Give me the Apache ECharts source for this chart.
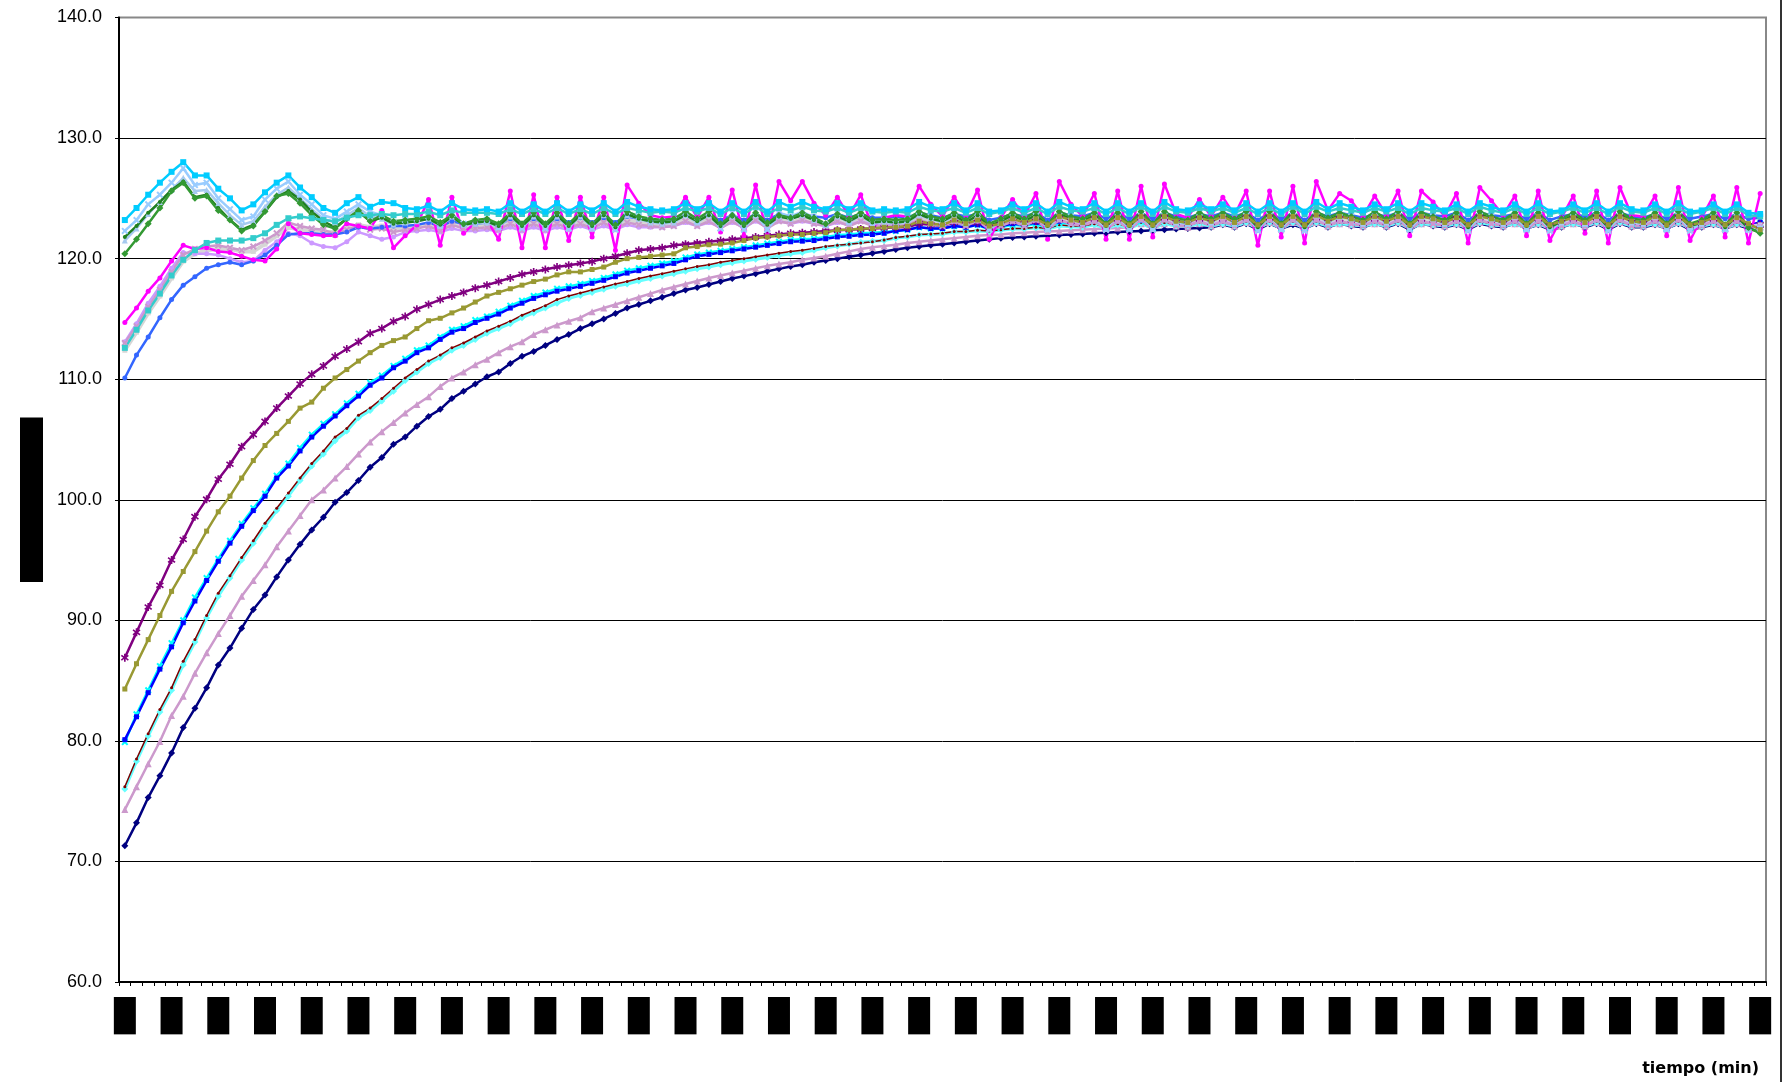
<!DOCTYPE html>
<html><head><meta charset="utf-8">
<script src="https://cdn.jsdelivr.net/npm/echarts@6.0.0/dist/echarts.min.js"></script>
<style>html,body{margin:0;padding:0;background:#fff}#c{width:1786px;height:1082px}</style>
</head><body><div id="c"></div><script>
// categories: one per sample (141 samples), labels shown every 4th
const tiempo = [];
for (let i = 0; i <= 140; i++) tiempo.push(Math.floor(i / 60) + ':' + String(i % 60).padStart(2, '0'));
const yTicks = [60, 70, 80, 90, 100, 110, 120, 130, 140];

const navy = [71.3,73.2,75.3,77.1,79.0,81.1,82.7,84.4,86.3,87.7,
89.35,90.9,92.1,93.6,95.0,96.3,97.5,98.55,99.8,100.6,
101.6,102.7,103.5,104.6,105.2,106.1,106.9,107.5,108.4,109.0,
109.6,110.2,110.6,111.3,111.9,112.3,112.8,113.3,113.7,114.2,
114.6,115.0,115.45,115.9,116.2,116.5,116.8,117.1,117.4,117.6,
117.85,118.1,118.35,118.55,118.75,118.95,119.15,119.35,119.5,119.7,
119.85,120.0,120.15,120.3,120.45,120.6,120.75,120.9,121.0,121.1,
121.2,121.3,121.4,121.5,121.6,121.7,121.75,121.8,121.85,121.9,
121.95,122.0,122.05,122.1,122.15,122.2,122.25,122.3,122.35,122.4,
122.45,122.5,122.55,122.6,122.8,122.6,122.9,122.4,122.9,122.5,
122.8,122.5,122.9,122.6,122.9,122.7,122.6,122.9,122.6,122.9,
122.4,122.9,122.7,122.6,122.8,122.4,122.9,122.7,122.6,122.9,
122.5,122.8,122.4,122.6,122.9,122.6,122.9,122.4,122.9,122.6,
122.6,122.8,122.5,122.9,122.4,122.6,122.8,122.5,122.8,122.5,
122.6];
const plumTri = [74.3,76.2,78.1,79.95,82.1,83.7,85.6,87.3,88.9,90.4,
92.0,93.3,94.6,96.1,97.4,98.7,100.0,100.8,101.8,102.75,
103.8,104.8,105.65,106.4,107.2,107.9,108.55,109.4,110.1,110.6,
111.2,111.65,112.2,112.7,113.1,113.7,114.1,114.5,114.8,115.1,
115.6,115.9,116.2,116.5,116.8,117.1,117.4,117.65,117.9,118.15,
118.4,118.6,118.8,119.0,119.2,119.4,119.55,119.7,119.9,120.05,
120.2,120.4,120.6,120.8,120.95,121.05,121.15,121.3,121.4,121.5,
121.6,121.7,121.8,121.9,121.95,122.0,122.1,122.15,122.2,122.25,
122.3,122.35,122.4,122.45,122.5,122.55,122.6,122.9,122.5,122.9,
122.7,122.6,122.9,122.7,122.9,122.7,123.0,122.5,123.0,122.5,
123.0,122.5,123.0,122.7,122.9,122.8,122.7,122.9,122.7,123.0,
122.5,122.9,122.8,122.7,122.9,122.5,123.0,122.8,122.7,122.9,
122.5,122.9,122.5,122.7,122.9,122.7,123.0,122.5,123.0,122.7,
122.7,122.9,122.5,123.0,122.5,122.7,122.9,122.5,122.9,122.6,
122.7];
const lightCyan = [76.0,78.3,80.4,82.4,84.2,86.3,88.2,90.2,92.0,93.5,
95.0,96.4,97.8,99.1,100.3,101.6,102.8,103.8,104.9,105.7,
106.8,107.4,108.2,109.0,109.9,110.6,111.3,111.8,112.4,112.8,
113.3,113.8,114.2,114.6,115.1,115.5,115.9,116.3,116.7,116.95,
117.2,117.45,117.7,117.9,118.15,118.35,118.55,118.75,118.95,119.15,
119.3,119.5,119.65,119.8,119.95,120.1,120.25,120.4,120.5,120.7,
120.9,121.05,121.2,121.35,121.45,121.5,121.7,121.8,121.95,122.0,
122.05,122.2,122.2,122.3,122.25,122.35,122.45,122.45,122.55,122.45,
122.7,122.65,122.6,122.8,122.5,122.8,122.5,122.9,122.5,122.9,
122.7,122.7,122.9,122.7,122.9,122.7,123.0,122.5,123.0,122.5,
123.0,122.5,123.0,122.7,122.9,122.8,122.7,122.9,122.7,123.0,
122.5,122.9,122.8,122.7,122.9,122.5,123.0,122.8,122.7,122.9,
122.5,122.9,122.5,122.7,122.9,122.7,123.0,122.5,123.0,122.7,
122.7,122.9,122.5,123.0,122.5,122.7,122.9,122.5,122.9,122.6,
122.8];
const darkRed = [76.2,78.5,80.6,82.6,84.4,86.6,88.4,90.4,92.25,93.7,
95.2,96.6,98.05,99.3,100.55,101.8,103.0,104.05,105.2,105.9,
107.0,107.6,108.4,109.25,110.1,110.8,111.5,112.0,112.6,113.0,
113.5,114.0,114.4,114.8,115.3,115.7,116.1,116.6,116.9,117.15,
117.4,117.65,117.9,118.1,118.35,118.55,118.75,118.95,119.15,119.35,
119.5,119.7,119.85,120.0,120.15,120.3,120.45,120.6,120.7,120.85,
121.0,121.1,121.2,121.3,121.4,121.55,121.75,121.85,122.0,122.05,
122.1,122.25,122.25,122.35,122.3,122.4,122.5,122.5,122.6,122.5,
122.8,122.7,122.7,122.9,122.6,122.9,122.6,123.0,122.6,123.0,
122.8,122.8,123.0,122.8,123.0,122.8,123.1,122.6,123.1,122.6,
123.1,122.6,123.1,122.8,123.0,122.9,122.8,123.0,122.8,123.1,
122.6,123.0,122.9,122.8,123.0,122.6,123.1,122.9,122.8,123.0,
122.6,123.0,122.6,122.8,123.0,122.8,123.1,122.6,123.1,122.8,
122.8,123.0,122.6,123.1,122.6,122.8,123.0,122.6,123.0,122.7,
122.7];
const cyanX = [79.9,82.2,84.2,86.2,88.1,90.0,91.9,93.5,95.1,96.6,
98.0,99.3,100.5,102.0,103.0,104.3,105.4,106.3,107.1,108.0,
108.8,109.7,110.3,111.1,111.7,112.4,112.8,113.5,114.1,114.4,
114.9,115.2,115.6,116.1,116.5,116.9,117.2,117.5,117.7,117.9,
118.15,118.4,118.7,119.0,119.2,119.4,119.6,119.8,120.1,120.35,
120.5,120.65,120.8,120.95,121.1,121.25,121.4,121.55,121.6,121.65,
121.8,121.95,122.0,122.1,122.15,122.2,122.3,122.4,122.6,122.5,
122.5,122.7,122.6,122.8,122.4,122.6,122.8,122.7,122.9,122.5,
123.0,122.9,122.8,123.1,122.5,123.1,122.5,123.1,122.5,123.2,
122.9,122.8,123.1,122.9,123.1,122.9,123.2,122.5,123.2,122.5,
123.2,122.5,123.2,122.9,123.1,123.0,122.8,123.1,122.9,123.2,
122.5,123.1,123.0,122.8,123.1,122.5,123.2,123.0,122.8,123.1,
122.5,123.2,122.5,122.9,123.1,122.8,123.2,122.5,123.2,122.9,
122.8,123.1,122.5,123.2,122.5,122.8,123.1,122.5,123.1,122.6,
122.9];
const blue = [80.1,82.0,84.0,85.95,87.8,89.8,91.6,93.3,94.9,96.4,
97.8,99.1,100.3,101.8,102.8,104.05,105.2,106.1,106.95,107.8,
108.6,109.5,110.1,110.95,111.5,112.2,112.6,113.3,113.9,114.2,
114.7,115.05,115.4,115.9,116.3,116.7,117.0,117.3,117.5,117.7,
117.95,118.2,118.5,118.8,119.0,119.2,119.4,119.6,119.9,120.2,
120.35,120.5,120.65,120.8,120.95,121.1,121.25,121.4,121.45,121.5,
121.65,121.8,121.85,121.95,122.0,122.1,122.3,122.4,122.6,122.5,
122.5,122.7,122.6,122.8,122.5,122.7,122.9,122.8,123.0,122.6,
123.1,123.0,122.9,123.2,122.7,123.2,122.7,123.2,122.7,123.3,
123.0,122.9,123.2,123.0,123.2,123.0,123.3,122.7,123.3,122.7,
123.3,122.7,123.3,123.0,123.2,123.1,122.9,123.2,123.0,123.3,
122.7,123.2,123.1,123.0,123.2,122.7,123.3,123.1,122.9,123.2,
122.7,123.3,122.7,123.0,123.2,122.9,123.3,122.7,123.3,123.0,
122.9,123.2,122.7,123.3,122.7,122.9,123.2,122.7,123.2,122.8,
123.0];
const olive = [84.3,86.4,88.4,90.4,92.4,94.05,95.7,97.4,99.0,100.3,
101.8,103.25,104.5,105.5,106.5,107.6,108.1,109.25,110.1,110.8,
111.5,112.2,112.8,113.2,113.5,114.2,114.85,115.05,115.5,115.9,
116.4,116.9,117.2,117.5,117.8,118.1,118.3,118.65,118.9,118.9,
119.1,119.3,119.7,120.0,120.1,120.2,120.3,120.4,120.9,121.0,
121.15,121.2,121.3,121.5,121.7,121.8,121.9,122.0,122.0,122.1,
122.15,122.4,122.4,122.5,122.5,122.6,122.6,122.7,123.1,122.9,
122.8,123.2,122.9,123.2,122.7,122.9,123.3,123.0,123.3,122.8,
123.5,123.2,123.0,123.4,122.8,123.4,122.8,123.5,122.8,123.5,
123.1,123.0,123.4,123.1,123.5,123.0,123.5,122.8,123.5,122.8,
123.5,122.8,123.6,123.1,123.5,123.3,123.0,123.5,123.1,123.5,
122.8,123.5,123.3,123.0,123.4,122.8,123.5,123.3,123.0,123.5,
122.8,123.5,122.8,123.1,123.4,123.0,123.5,122.8,123.5,123.1,
123.0,123.5,122.8,123.5,122.8,123.0,123.4,122.8,123.4,122.9,
122.4];
const purple = [86.9,89.0,91.1,92.9,95.0,96.7,98.6,100.05,101.7,102.95,
104.4,105.4,106.5,107.6,108.6,109.6,110.4,111.1,111.9,112.5,
113.1,113.8,114.2,114.8,115.2,115.8,116.2,116.6,116.9,117.2,
117.55,117.8,118.1,118.4,118.7,118.9,119.1,119.3,119.45,119.6,
119.75,120.0,120.2,120.45,120.7,120.8,120.9,121.1,121.2,121.3,
121.4,121.5,121.6,121.7,121.8,121.9,122.0,122.1,122.15,122.2,
122.3,122.35,122.4,122.45,122.5,122.55,122.6,122.6,122.9,122.8,
122.7,123.0,122.8,123.0,122.6,122.8,123.1,122.9,123.1,122.7,
123.3,123.1,122.9,123.3,122.7,123.3,122.7,123.4,122.7,123.4,
123.0,122.9,123.3,123.0,123.3,123.0,123.4,122.7,123.4,122.7,
123.4,122.7,123.4,123.0,123.3,123.2,122.9,123.3,123.0,123.4,
122.7,123.3,123.2,122.9,123.3,122.7,123.4,123.2,122.9,123.3,
122.7,123.3,122.7,123.0,123.3,122.9,123.4,122.7,123.4,123.0,
122.9,123.3,122.7,123.4,122.7,122.9,123.3,122.7,123.3,122.7,
122.8];
const lightGray = [112.4,113.9,115.5,116.9,118.4,119.8,120.4,120.7,120.8,120.8,
120.6,120.6,121.2,121.9,122.6,122.4,122.3,122.2,122.2,122.5,
122.8,122.6,122.7,122.5,122.6,122.7,122.9,122.5,123.0,122.7,
122.7,122.8,122.6,123.1,122.6,123.1,122.6,123.1,122.7,123.1,
122.7,123.2,122.6,123.2,123.0,122.9,122.8,122.9,123.3,122.9,
123.3,122.7,123.3,122.7,123.3,122.7,123.3,123.0,123.3,123.0,
122.9,123.3,122.9,123.3,122.9,122.9,122.9,122.9,123.3,123.1,
122.9,123.3,122.9,123.3,122.6,122.9,123.3,122.9,123.3,122.6,
123.3,123.1,122.9,123.3,122.6,123.3,122.6,123.3,122.6,123.3,
122.9,122.9,123.3,122.9,123.3,122.9,123.3,122.6,123.3,122.6,
123.3,122.6,123.3,122.9,123.3,123.1,122.9,123.3,122.9,123.3,
122.6,123.3,123.1,122.9,123.3,122.6,123.3,123.1,122.9,123.3,
122.6,123.3,122.6,122.9,123.3,122.9,123.3,122.6,123.3,122.9,
122.9,123.3,122.6,123.3,122.6,122.9,123.3,122.6,123.3,122.6,
122.8];
const lavender = [113.1,114.6,116.3,117.7,119.2,120.5,120.4,120.4,120.3,120.0,
119.7,119.8,120.7,121.4,122.1,121.9,121.3,121.0,120.9,121.4,
122.2,121.9,121.6,121.8,122.2,122.3,122.4,122.2,122.5,122.3,
122.3,122.4,122.3,122.6,122.3,122.6,122.3,122.6,122.4,122.7,
122.4,122.7,122.4,122.8,122.6,122.6,122.6,122.7,123.0,122.7,
123.0,122.6,123.0,122.6,123.1,122.6,123.1,122.9,123.1,122.9,
122.7,123.0,122.8,123.1,122.8,122.8,122.8,122.8,123.2,122.9,
122.8,123.1,122.8,123.1,122.6,122.8,123.1,122.8,123.2,122.6,
123.2,122.9,122.8,123.1,122.6,123.1,122.6,123.2,122.6,123.2,
122.8,122.8,123.1,122.8,123.1,122.8,123.2,122.5,123.2,122.6,
123.2,122.5,123.2,122.8,123.1,122.9,122.8,123.1,122.8,123.2,
122.6,123.1,122.9,122.8,123.1,122.5,123.2,122.9,122.8,123.1,
122.6,123.1,122.5,122.8,123.1,122.7,123.2,122.5,123.2,122.8,
122.8,123.1,122.6,123.2,122.5,122.8,123.1,122.6,123.1,122.6,
122.7];
const plumX = [113.0,114.4,116.0,117.4,118.9,120.3,120.8,121.0,121.1,120.9,
120.7,121.0,121.5,122.1,123.0,122.7,122.5,122.4,122.0,122.4,
122.7,122.4,122.5,122.2,122.4,122.5,122.7,122.3,122.8,122.5,
122.5,122.6,122.4,122.9,122.4,122.9,122.4,122.9,122.5,122.9,
122.5,123.0,122.4,123.0,122.8,122.7,122.6,122.7,123.1,122.7,
123.1,122.5,123.1,122.5,123.2,122.5,123.1,122.9,123.2,122.9,
122.7,123.1,122.7,123.1,122.7,122.7,122.7,122.8,123.2,122.9,
122.7,123.1,122.7,123.2,122.4,122.7,123.1,122.7,123.2,122.4,
123.2,122.9,122.7,123.1,122.4,123.1,122.4,123.2,122.4,123.2,
122.7,122.7,123.1,122.7,123.1,122.7,123.2,122.4,123.2,122.4,
123.2,122.4,123.2,122.7,123.1,122.9,122.7,123.1,122.7,123.2,
122.4,123.1,122.9,122.7,123.1,122.4,123.2,122.9,122.7,123.1,
122.4,123.1,122.4,122.7,123.1,122.7,123.2,122.4,123.2,122.7,
122.7,123.1,122.4,123.2,122.4,122.7,123.1,122.4,123.1,122.5,
122.6];
const blueCircle = [110.1,112.0,113.5,115.1,116.6,117.8,118.5,119.2,119.5,119.7,
119.5,119.8,120.3,121.1,122.0,122.1,122.1,122.0,122.0,122.2,
122.6,122.5,122.6,122.7,122.7,122.8,123.0,122.7,123.1,122.9,
122.9,123.0,122.8,123.3,122.9,123.3,122.9,123.3,123.0,123.4,
123.0,123.4,123.0,123.5,123.3,123.2,123.2,123.3,123.6,123.3,
123.6,123.2,123.6,123.2,123.7,123.2,123.7,123.5,123.7,123.5,
123.4,123.7,123.4,123.7,123.4,123.4,123.5,123.4,123.8,123.6,
123.4,123.7,123.5,123.7,123.2,123.4,123.7,123.5,123.8,123.2,
123.8,123.6,123.5,123.8,123.3,123.8,123.3,123.8,123.3,123.8,
123.5,123.4,123.7,123.5,123.8,123.5,123.8,123.2,123.8,123.3,
123.8,123.2,123.8,123.5,123.8,123.6,123.4,123.7,123.5,123.8,
123.3,123.8,123.6,123.5,123.8,123.2,123.8,123.6,123.5,123.7,
123.3,123.8,123.2,123.5,123.7,123.5,123.8,123.2,123.8,123.5,
123.4,123.7,123.3,123.8,123.3,123.5,123.7,123.3,123.7,123.3,
123.4];
const magenta = [114.7,115.9,117.3,118.4,119.8,121.1,120.8,120.9,120.6,120.5,
120.2,119.9,119.8,120.8,122.9,122.1,122.0,121.9,121.9,122.9,
122.7,122.5,124.0,120.9,121.9,122.8,124.9,121.1,125.1,122.1,
123.0,123.2,121.6,125.6,120.9,125.3,120.9,125.1,121.5,125.1,
121.8,125.1,120.7,126.1,124.6,123.6,123.4,123.5,125.1,123.4,
125.1,122.2,125.7,121.9,126.1,121.9,126.4,124.8,126.4,124.6,
123.6,125.1,123.5,125.3,122.6,123.4,123.6,123.5,126.0,124.5,
123.5,125.1,123.6,125.7,121.6,123.4,124.9,123.5,125.4,121.6,
126.4,124.5,123.5,125.4,121.6,125.6,121.6,126.0,121.8,126.2,
123.7,123.4,124.9,123.5,125.1,123.6,125.6,121.1,125.6,121.8,
126.0,121.3,126.4,124.0,125.4,124.8,123.5,125.2,123.6,125.6,
121.9,125.6,124.7,123.5,125.4,121.3,125.9,124.8,123.6,125.2,
121.9,125.6,121.5,123.4,125.2,122.1,125.6,121.3,125.9,123.6,
123.5,125.2,121.9,125.9,121.5,123.4,125.2,121.8,125.9,121.3,
125.4];
const teal = [112.6,114.1,115.7,117.1,118.6,119.9,120.7,121.3,121.5,121.5,
121.5,121.7,122.1,122.8,123.35,123.5,123.35,123.2,123.1,123.4,
123.6,123.6,123.7,123.6,123.7,123.7,123.9,123.6,124.0,123.8,
123.8,123.8,123.7,124.1,123.7,124.1,123.7,124.2,123.7,124.1,
123.7,124.2,123.7,124.2,124.0,123.8,123.9,123.8,124.2,123.9,
124.2,123.7,124.2,123.7,124.3,123.7,124.2,124.0,124.3,124.0,
123.9,124.2,123.8,124.2,123.9,123.8,123.9,123.8,124.3,124.0,
123.9,124.2,123.8,124.2,123.7,123.9,124.2,123.8,124.2,123.7,
124.3,124.0,123.9,124.2,123.7,124.2,123.7,124.3,123.7,124.3,
123.9,123.8,124.2,123.9,124.2,123.8,124.2,123.7,124.2,123.7,
124.3,123.7,124.3,123.9,124.2,124.0,123.8,124.2,123.9,124.2,
123.7,124.2,124.0,123.9,124.2,123.7,124.3,124.0,123.8,124.2,
123.7,124.2,123.7,123.9,124.2,123.8,124.2,123.7,124.3,123.9,
123.8,124.2,123.7,124.2,123.7,123.9,124.2,123.7,124.2,123.6,
123.5];
const lightBlue2 = [121.5,122.5,123.7,124.7,125.7,126.7,125.6,125.7,124.6,123.6,
122.8,123.1,124.3,125.3,125.9,125.0,124.1,123.3,123.0,123.6,
124.2,123.5,123.3,122.8,123.0,123.1,123.3,122.7,123.5,122.8,
122.9,123.0,122.6,123.5,122.6,123.5,122.6,123.5,122.6,123.5,
122.6,123.6,122.5,123.6,123.3,123.0,122.9,123.0,123.6,123.0,
123.6,122.6,123.5,122.5,123.6,122.5,123.5,123.3,123.6,123.2,
122.8,123.5,123.0,123.6,122.9,123.0,122.9,123.0,123.6,123.3,
123.0,123.5,122.9,123.6,122.5,123.0,123.5,123.0,123.6,122.5,
123.6,123.3,123.0,123.5,122.5,123.6,122.5,123.6,122.5,123.6,
123.0,122.9,123.5,123.0,123.6,122.9,123.6,122.4,123.6,122.5,
123.6,122.4,123.6,123.0,123.5,123.3,122.9,123.5,123.0,123.6,
122.5,123.5,123.3,122.9,123.5,122.4,123.6,123.3,122.9,123.5,
122.5,123.6,122.4,123.0,123.5,122.9,123.6,122.4,123.6,123.0,
122.9,123.5,122.5,123.6,122.4,122.9,123.5,122.5,123.5,122.4,
122.6];
const lightBlue = [122.3,123.2,124.5,125.3,126.3,127.5,126.1,126.3,125.0,124.1,
123.2,123.5,124.9,125.8,126.4,125.3,124.5,123.6,123.3,123.9,
124.5,123.9,123.6,123.0,123.2,123.3,123.5,122.8,123.7,122.9,
123.1,123.2,122.6,123.8,122.5,123.8,122.5,123.8,122.5,123.8,
122.5,123.8,122.4,123.9,123.5,123.2,123.1,123.2,123.8,123.1,
123.8,122.5,123.8,122.4,123.9,122.4,123.8,123.5,123.9,123.4,
122.8,123.8,123.1,123.8,123.0,123.2,122.9,123.2,123.9,123.5,
123.1,123.8,123.0,123.8,122.4,123.1,123.8,123.1,123.9,122.4,
123.9,123.5,123.1,123.8,122.4,123.8,122.4,123.9,122.4,123.9,
123.1,122.9,123.8,123.1,123.8,123.0,123.9,122.3,123.9,122.4,
123.9,122.3,123.9,123.2,123.8,123.5,123.0,123.8,123.1,123.9,
122.4,123.8,123.5,123.0,123.8,122.3,123.9,123.5,123.0,123.8,
122.4,123.9,122.3,123.1,123.8,122.9,123.9,122.3,123.9,123.1,
123.0,123.8,122.4,123.9,122.3,123.0,123.8,122.4,123.8,122.4,
122.5];
const darkGreen = [121.8,122.7,123.8,124.7,125.7,126.4,125.1,125.3,124.2,123.2,
122.4,122.8,123.9,125.1,125.6,124.9,123.9,123.1,122.6,123.3,
123.9,123.1,123.4,122.9,123.0,123.1,123.3,122.8,123.5,122.8,
123.0,123.1,122.7,123.6,122.7,123.6,122.7,123.6,122.7,123.6,
122.7,123.6,122.6,123.7,123.3,123.1,123.0,123.1,123.6,123.1,
123.6,122.7,123.5,122.7,123.6,122.8,123.5,123.3,123.6,123.2,
122.8,123.5,123.1,123.6,123.0,123.1,123.0,123.1,123.7,123.3,
123.1,123.6,123.0,123.6,122.7,123.1,123.6,123.1,123.6,122.7,
123.7,123.3,123.1,123.6,122.7,123.6,122.7,123.6,122.7,123.7,
123.1,123.0,123.6,123.1,123.6,123.1,123.6,122.6,123.6,122.7,
123.7,122.6,123.7,123.2,123.6,123.3,123.0,123.6,123.1,123.6,
122.7,123.6,123.3,123.0,123.6,122.6,123.7,123.3,123.0,123.6,
122.7,123.6,122.6,123.1,123.6,123.0,123.6,122.6,123.7,123.1,
123.0,123.6,122.7,123.6,122.7,123.0,123.6,122.6,123.5,122.5,
122.2];
const green = [120.4,121.6,122.9,124.2,125.6,126.3,125.0,125.2,124.0,123.2,
122.3,122.7,123.9,125.2,125.4,124.6,123.6,122.8,122.5,123.3,
124.0,123.1,123.6,123.1,123.2,123.3,123.5,123.0,123.6,122.9,
123.2,123.3,122.9,123.8,122.9,123.8,122.9,123.8,122.9,123.8,
122.9,123.8,122.8,123.9,123.5,123.3,123.2,123.3,123.9,123.3,
123.9,122.9,123.6,122.9,123.8,123.0,123.6,123.4,123.8,123.4,
122.9,123.7,123.3,123.8,123.2,123.3,123.2,123.3,123.9,123.5,
123.3,123.8,123.2,123.9,122.9,123.3,123.8,123.3,123.9,122.9,
123.9,123.5,123.3,123.8,122.9,123.8,122.9,123.9,122.9,123.9,
123.3,123.2,123.8,123.3,123.8,123.3,123.9,122.8,123.9,122.9,
123.9,122.8,123.9,123.4,123.8,123.5,123.2,123.9,123.3,123.9,
122.9,123.8,123.5,123.2,123.8,122.8,123.9,123.5,123.2,123.8,
122.9,123.8,122.8,123.3,123.8,123.2,123.8,122.8,123.9,123.3,
123.2,123.8,122.9,123.9,122.9,123.2,123.8,122.8,123.8,122.6,
122.1];
const cyan = [123.2,124.2,125.3,126.3,127.2,128.0,126.9,126.9,125.8,125.0,
124.0,124.5,125.5,126.3,126.9,125.9,125.1,124.2,123.8,124.6,
125.1,124.3,124.7,124.6,124.2,124.1,124.4,123.9,124.6,124.1,
124.0,124.1,123.9,124.6,123.9,124.5,123.9,124.6,123.9,124.5,
124.0,124.6,123.9,124.7,124.3,124.1,124.0,124.1,124.6,124.1,
124.6,123.9,124.6,123.9,124.7,123.9,124.7,124.3,124.7,124.3,
124.1,124.6,124.1,124.6,124.0,124.1,124.0,124.1,124.7,124.3,
124.1,124.6,124.0,124.6,123.9,124.0,124.5,124.1,124.6,123.9,
124.7,124.3,124.1,124.6,123.9,124.6,123.9,124.6,123.9,124.7,
124.1,124.0,124.5,124.1,124.5,124.0,124.6,123.9,124.6,123.9,
124.6,123.9,124.7,124.1,124.6,124.3,124.0,124.5,124.1,124.6,
123.9,124.6,124.3,124.0,124.5,123.9,124.6,124.3,124.0,124.5,
123.9,124.6,123.9,124.0,124.5,124.0,124.6,123.9,124.6,124.1,
124.0,124.5,123.9,124.6,123.9,124.0,124.5,123.9,124.5,123.8,
123.7];

const X_MARK = 'path://M0,2L2,0L5,3L8,0L10,2L7,5L10,8L8,10L5,7L2,10L0,8L3,5Z';
const STAR = 'path://M4,0H6V3.3L8.6,1.2L9.8,2.8L7,5L9.8,7.2L8.6,8.8L6,6.7V10H4V6.7L1.4,8.8L0.2,7.2L3,5L0.2,2.8L1.4,1.2L4,3.3Z';

function S(name, data, color, symbol, size, width) {
  return {
    name, type: 'line', data, symbol, symbolSize: size, showSymbol: true, showAllSymbol: true,
    lineStyle: { color, width: width || 2.5 }, itemStyle: { color },
    emphasis: { disabled: true }, animation: false
  };
}

const series = [
  S('navy', navy, '#000080', 'diamond', 7),
  S('plumTri', plumTri, '#CC99CC', 'triangle', 7),
  S('lightCyan', lightCyan, '#66FFFF', 'diamond', 7, 3),
  S('darkRed', darkRed, '#800000', 'circle', 3, 1.5),
  S('cyanX', cyanX, '#00FFFF', X_MARK, 7),
  S('blue', blue, '#0000FF', 'rect', 5),
  S('purple', purple, '#800080', STAR, 8),
  S('lightGray', lightGray, '#D6D6D6', 'rect', 5, 4),
  S('lavender', lavender, '#CC99FF', 'circle', 5),
  S('plumX', plumX, '#CC99CC', X_MARK, 7),
  S('blueCircle', blueCircle, '#3366FF', 'circle', 5),
  S('magenta', magenta, '#FF00FF', 'circle', 5),
  S('lightBlue2', lightBlue2, '#A6CAF0', 'triangle', 6),
  S('lightBlue', lightBlue, '#99CCFF', X_MARK, 7),
  S('darkGreen', darkGreen, '#1F7F1F', 'circle', 4),
  S('green', green, '#339933', 'diamond', 7),
  S('teal', teal, '#33CCCC', 'rect', 6),
  S('olive', olive, '#999933', 'rect', 5),
  S('cyan', cyan, '#00CCFF', 'rect', 6)
];

const chart = echarts.init(document.getElementById('c'), null, { renderer: 'canvas' });
chart.setOption({
  backgroundColor: '#fff',
  animation: false,
  title: {
    text: 'tiempo (min)', right: 22, top: 1056,
    textStyle: { fontSize: 16, fontWeight: 'bold', color: '#000', fontFamily: 'DejaVu Sans, Liberation Sans' }
  },
  grid: { left: 119, right: 20, top: 17.5, bottom: 100, show: true, borderColor: '#888', borderWidth: 2, backgroundColor: 'transparent' },
  xAxis: {
    type: 'category', data: tiempo, boundaryGap: true,
    axisLine: { lineStyle: { color: '#000', width: 2 } },
    axisTick: { show: true, interval: 0, length: 4, lineStyle: { color: '#000' } },
    axisLabel: {
      interval: 3, rotate: 90, margin: 15, fontSize: 12, color: '#000',
      backgroundColor: '#000', padding: [5, 7, 5, 7], fontFamily: 'Liberation Sans, Arial'
    },
    splitLine: { show: false }
  },
  yAxis: {
    type: 'value', min: yTicks[0], max: yTicks[yTicks.length - 1], interval: 10,
    name: 'temperatura (ºC)', nameLocation: 'middle', nameGap: 76, nameRotate: 90,
    nameTextStyle: { fontSize: 13, color: '#000', backgroundColor: '#000', padding: [5, 34, 5, 34], fontFamily: 'Liberation Sans, Arial' },
    axisLine: { show: true, lineStyle: { color: '#000', width: 2 } },
    axisTick: { show: true, length: 4, lineStyle: { color: '#000' } },
    axisLabel: { formatter: v => v.toFixed(1), fontSize: 18, color: '#000', margin: 17, fontFamily: 'Liberation Sans, Arial' },
    splitLine: { show: true, lineStyle: { color: ['#000', '#000', '#000', '#000', '#000', '#000', '#000', '#000', '#888'], width: 1 } }
  },
  graphic: [{ type: 'rect', left: 1780, top: 0, shape: { width: 2, height: 1082 }, style: { fill: '#333' }, silent: true }],
  series
});
</script></body></html>
